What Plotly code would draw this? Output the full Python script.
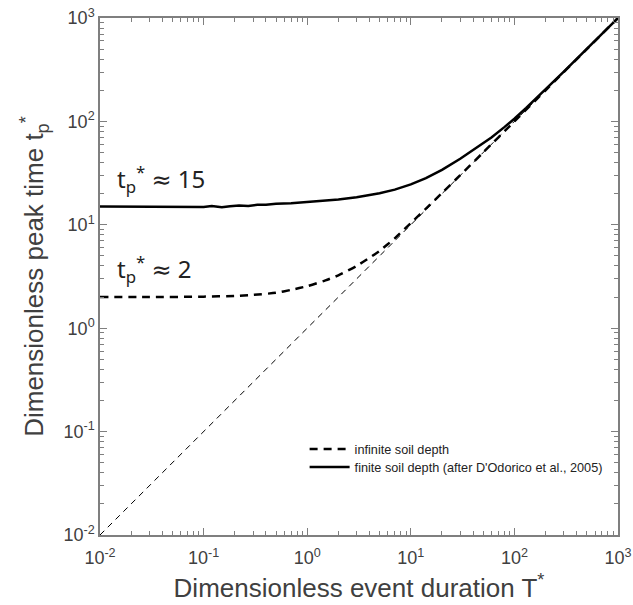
import math
import plotly.graph_objects as go

# Dimensionless event duration vs peak time
T_inf = [0.01, 0.03, 0.1, 0.2, 0.3, 0.5, 0.7, 1, 1.5, 2, 3, 4, 5, 7, 10, 15, 20, 30, 50, 100, 200, 500, 1000]
tp_inf = [2.0, 2.0, 2.02, 2.05, 2.1, 2.2, 2.35, 2.55, 2.9, 3.25, 4.0, 4.8, 5.6, 7.4, 10.4, 15.3, 20.3, 30.2, 50.1, 100, 200, 500, 1000]

T_fin = [0.01, 0.02, 0.05, 0.1, 0.12, 0.15, 0.18, 0.22, 0.27, 0.33, 0.4, 0.5, 0.7, 1, 1.5, 2, 3, 4,
         5, 7, 10, 14, 20, 30, 45, 60, 80, 100, 130, 170, 200, 300, 500, 700, 1000]
tp_fin = [15.0, 15.0, 14.9, 14.9, 15.2, 14.8, 15.1, 15.4, 15.2, 15.6, 15.6, 16.0, 16.2, 16.6, 17.1, 17.6, 18.5, 19.3,
          20.2, 21.9, 24.6, 28.3, 34, 43.5, 57, 70, 88, 106, 135, 174, 204, 303, 502, 702, 1000]

T_ref = [0.01, 1000]
tp_ref = [0.01, 1000]

decade_vals = [0.01, 0.1, 1, 10, 100, 1000]
decade_text = ["10<sup>-2</sup>", "10<sup>-1</sup>", "10<sup>0</sup>", "10<sup>1</sup>", "10<sup>2</sup>", "10<sup>3</sup>"]

plateaus = [15, 2]
plateau_text = ["t<sub>p</sub><sup>*</sup> ≈ 15", "t<sub>p</sub><sup>*</sup> ≈ 2"]

AX = "#7f7f7f"
TXT = "#404040"
FONT = "Liberation Sans, Arial, sans-serif"
ANN_FONT = "Noto Sans, DejaVu Sans, sans-serif"

fig = go.Figure()
fig.add_trace(go.Scatter(x=T_ref, y=tp_ref, mode="lines", showlegend=False,
                         line=dict(color="black", width=1, dash="6px,5px")))
fig.add_trace(go.Scatter(x=T_inf, y=tp_inf, mode="lines", name="infinite soil depth", legend="legend",
                         line=dict(color="black", width=2.5, dash="8px,6px", shape="spline", smoothing=0.6)))
fig.add_trace(go.Scatter(x=T_fin, y=tp_fin, mode="lines", name="finite soil depth (after D'Odorico et al., 2005)",
                         legend="legend2", line=dict(color="black", width=2.5)))

axis_common = dict(
    type="log", range=[-2, 3], tickvals=decade_vals, ticktext=decade_text,
    showline=True, linecolor=AX, linewidth=1.5, mirror="allticks",
    ticks="inside", ticklen=7, tickcolor=AX, tickwidth=1,
    minor=dict(ticks="inside", ticklen=4, tickcolor=AX, tickwidth=1, dtick="D1", showgrid=False),
    showgrid=False, zeroline=False,
    tickfont=dict(family=FONT, size=18, color=TXT),
)

fig.update_xaxes(**axis_common, ticklabelstandoff=6,
                 title=dict(text="Dimensionless event duration T<sup>*</sup>",
                            font=dict(family=FONT, size=26, color=TXT), standoff=11))
fig.update_yaxes(**axis_common,
                 title=dict(text="Dimensionless peak time t<sub>p</sub><sup>*</sup>",
                            font=dict(family=FONT, size=26, color=TXT), standoff=12))

# Plateau labels
for val, label in zip(plateaus, plateau_text):
    fig.add_annotation(x=-1.855, y=math.log10(val) + 0.27, text=label, showarrow=False,
                       xanchor="left", yanchor="middle",
                       font=dict(family=ANN_FONT, size=24, color="#222222"))

legend_style = dict(xanchor="left", yanchor="middle", bgcolor="rgba(0,0,0,0)", itemwidth=40,
                    font=dict(family=FONT, size=12.7, color="#222222"))

fig.update_layout(
    width=633, height=605,
    margin=dict(l=100, r=15, t=18, b=70, autoexpand=False),
    plot_bgcolor="white", paper_bgcolor="white",
    legend=dict(x=0.395, y=0.166, **legend_style),
    legend2=dict(x=0.395, y=0.131, **legend_style),
)

fig.write_html("out.html")
